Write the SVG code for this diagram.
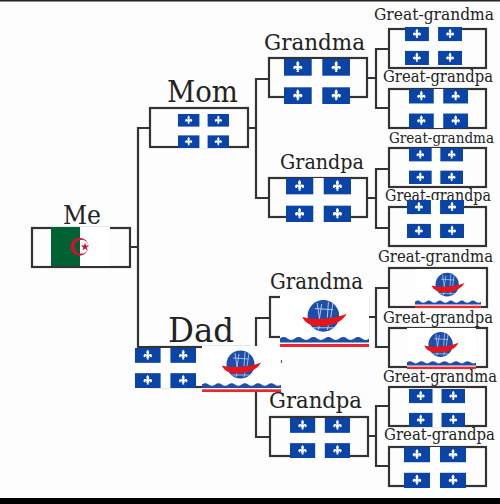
<svg xmlns="http://www.w3.org/2000/svg" width="500" height="504" viewBox="0 0 500 504">
<style>
.box{fill:none;stroke:#333;stroke-width:2.200}
.conn{fill:none;stroke:#333;stroke-width:2.200}
text{font-family:"DejaVu Serif","Liberation Serif",serif;fill:#222}
.gg{font-size:16.500px}
</style>
<defs>
<path id="fl" d="M0-6.500C1.600-5 2-3.600 1-1.800L1-1C2-2.600 4.600-2.200 4.600 0C4.600 1.400 3.400 2 2.600 1.600C3 .8 2.200 .2 1.200 1.200L2 2.400H.7L1.200 4.400H-1.200L-.7 2.400H-2L-1.200 1.200C-2.200 .2-3 .8-2.600 1.600C-3.400 2-4.600 1.400-4.600 0C-4.600-2.200-2-2.600-1-1L-1-1.800C-2-3.600-1.600-5 0-6.500Z" fill="#fff"/>
<symbol id="qc" viewBox="0 0 66 45" preserveAspectRatio="none">
<rect width="66" height="45" fill="#fff"/>
<g fill="#0a44a6"><rect width="27.700" height="16.700"/><rect x="38.300" width="27.700" height="16.700"/><rect y="28.300" width="27.700" height="16.700"/><rect x="38.300" y="28.300" width="27.700" height="16.700"/></g>
<use href="#fl" transform="translate(13.800 8.600)"/><use href="#fl" transform="translate(52.200 8.600)"/><use href="#fl" transform="translate(13.800 36.800)"/><use href="#fl" transform="translate(52.200 36.800)"/>
</symbol>
<symbol id="boat" viewBox="0 0 79 46" preserveAspectRatio="none">
<rect width="79" height="46" fill="#fff"/>
<circle cx="38.500" cy="18.500" r="14" fill="#1d4fa8"/>
<path d="M33 7L35 21M37 8L35 21M43 6L42 20M47 7L45 20M31 12L47 13M28 29L49 29M36 22L34 31M44 22L42 31" stroke="#c4d2ec" stroke-width=".8" fill="none"/>
<path d="M20 19.500C32 22.500 48 21 59 16.500C56 23 47 27.500 36 27.500C27 27.500 21.500 24.500 20 19.500Z" fill="#e8141c"/>
<path d="M0 38.500q3.300-2.500 6.600 0t6.600 0q3.300-2.500 6.600 0t6.600 0q3.300-2.500 6.600 0t6.600 0q3.300-2.500 6.600 0t6.600 0q3.300-2.500 6.600 0t6.600 0q3.300-2.500 6.600 0t6.600 0V42H0Z" fill="#1d4fa8"/>
<rect y="43.300" width="79" height="2.700" fill="#f0242c"/>
</symbol>
</defs>
<rect width="500" height="504" fill="#fdfdfd"/>
<rect width="500" height="1.500" fill="#222"/>
<rect y="498" width="500" height="6" fill="#000"/>
<g id="connectors" class="conn">
<path d="M130 247H138M150 128H138V347H150"/>
<path d="M248 128H256M269 79H256V198H269"/>
<path d="M248 367H256M270 318H256V437H270"/>
<path d="M367 78H376M389 49H376V108H389"/>
<path d="M367 198H376M389 169H376V228H389"/>
<path d="M368 317H376M389 288H376V347H389"/>
<path d="M368 436H376M389 406H376V466H389"/>
</g>
<g id="me"><rect class="box" x="32" y="228" width="98" height="39"/><text x="63" y="224" font-size="26" textLength="38" lengthAdjust="spacingAndGlyphs">Me</text>
<rect x="51" y="227" width="59" height="39" fill="#fff"/><rect x="51" y="227" width="29" height="39" fill="#006233"/>
<path fill-rule="evenodd" d="M70.500 246.700a9 9 0 1 0 18 0a9 9 0 1 0-18 0ZM74.500 246.700a7 7 0 1 0 14 0a7 7 0 1 0-14 0Z" fill="#d21034"/>
<path d="M85 242.500L86 245.500H89.200L86.600 247.400L87.600 250.500L85 248.600L82.400 250.500L83.400 247.400L80.800 245.500H84Z" fill="#d21034"/></g>
<g id="mom"><rect class="box" x="150" y="108" width="98" height="39"/><text x="167" y="102" font-size="30" textLength="71" lengthAdjust="spacingAndGlyphs">Mom</text><use href="#qc" x="178" y="114" width="51" height="34"/></g>
<g id="dad"><rect class="box" x="150" y="347" width="99" height="40"/><text x="168" y="342" font-size="34" textLength="66" lengthAdjust="spacingAndGlyphs">Dad</text><use href="#qc" x="135" y="348" width="61" height="40"/><use href="#boat" x="202" y="346" width="79" height="46"/><rect x="281" y="360" width="1" height="3" fill="#e8141c"/></g>
<g id="mom-grandma"><rect class="box" x="269" y="58" width="98" height="39"/><text x="264" y="50" font-size="23" textLength="101" lengthAdjust="spacingAndGlyphs">Grandma</text><use href="#qc" x="284" y="59" width="66" height="45"/></g>
<g id="mom-grandpa"><rect class="box" x="269" y="178" width="98" height="39"/><text x="280" y="169" font-size="20.500" textLength="84" lengthAdjust="spacingAndGlyphs">Grandpa</text><use href="#qc" x="286" y="178" width="65" height="44"/></g>
<g id="dad-grandma"><rect class="box" x="270" y="297" width="98" height="40"/><text x="270" y="289" font-size="22" textLength="93" lengthAdjust="spacingAndGlyphs">Grandma</text><use href="#boat" x="280" y="295" width="89" height="52"/></g>
<g id="dad-grandpa"><rect class="box" x="270" y="417" width="98" height="39"/><text x="269" y="408" font-size="22" textLength="93" lengthAdjust="spacingAndGlyphs">Grandpa</text><use href="#qc" x="290" y="418" width="60" height="40"/></g>
<g id="gg1"><rect class="box" x="389" y="29" width="97" height="39"/><text class="gg" x="374" y="20" textLength="120" lengthAdjust="spacingAndGlyphs">Great-grandma</text><use href="#qc" x="405" y="27" width="57" height="38"/></g>
<g id="gg2"><rect class="box" x="389" y="89" width="97" height="39"/><text class="gg" x="383" y="82" textLength="110" lengthAdjust="spacingAndGlyphs">Great-grandpa</text><use href="#qc" x="409" y="89" width="59" height="39"/></g>
<g id="gg3"><rect class="box" x="389" y="148" width="97" height="39"/><text class="gg" x="389" y="143" style="font-size:15px" textLength="105" lengthAdjust="spacingAndGlyphs">Great-grandma</text><use href="#qc" x="409" y="148" width="54" height="36"/></g>
<g id="gg4"><rect class="box" x="389" y="207" width="97" height="39"/><text class="gg" x="385" y="201" textLength="106" lengthAdjust="spacingAndGlyphs">Great-grandpa</text><use href="#qc" x="407" y="200" width="57" height="38"/></g>
<g id="gg5"><rect class="box" x="389" y="268" width="98" height="39"/><text class="gg" x="378" y="262" textLength="115" lengthAdjust="spacingAndGlyphs">Great-grandma</text><use href="#boat" x="415" y="269" width="66" height="39"/></g>
<g id="gg6"><rect class="box" x="389" y="328" width="98" height="39"/><text class="gg" x="383" y="323" textLength="110" lengthAdjust="spacingAndGlyphs">Great-grandpa</text><use href="#boat" x="407" y="328" width="69" height="41"/></g>
<g id="gg7"><rect class="box" x="389" y="387" width="97" height="39"/><text class="gg" x="383" y="382" textLength="114" lengthAdjust="spacingAndGlyphs">Great-grandma</text><use href="#qc" x="409" y="389" width="56" height="38"/></g>
<g id="gg8"><rect class="box" x="389" y="447" width="97" height="39"/><text class="gg" x="384" y="440" textLength="111" lengthAdjust="spacingAndGlyphs">Great-grandpa</text><use href="#qc" x="404" y="447" width="62" height="41"/></g>
</svg>
